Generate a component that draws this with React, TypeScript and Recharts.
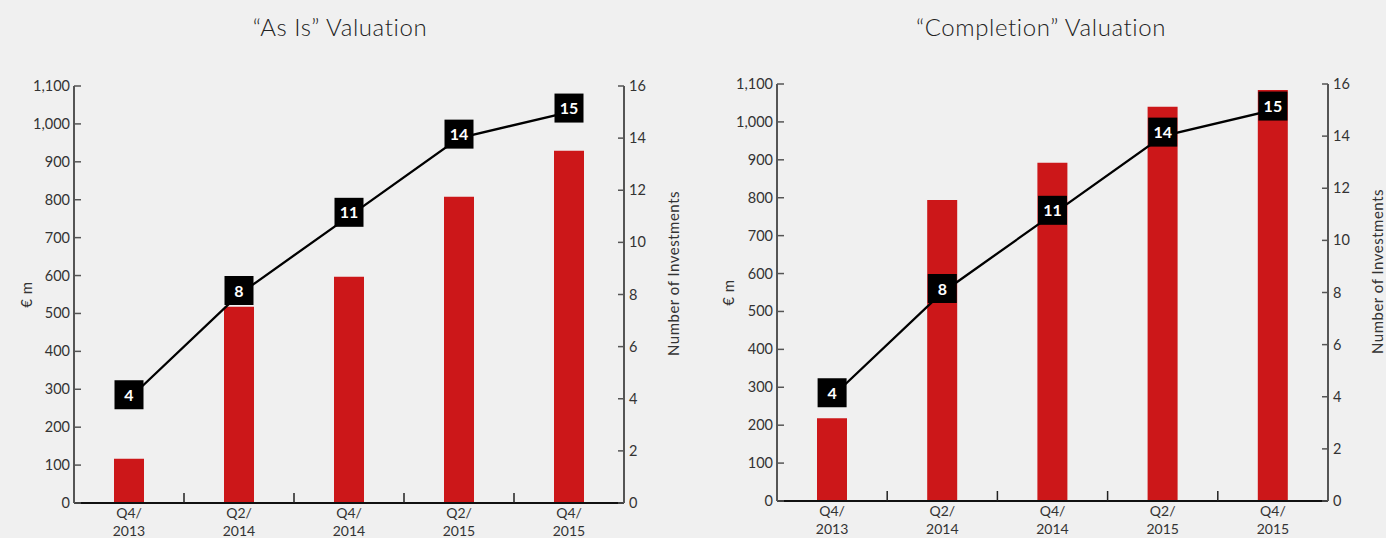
import { ComposedChart, Bar, Line, XAxis, YAxis, LabelList } from 'recharts'

const quarters = ['Q4/', 'Q2/', 'Q4/', 'Q2/', 'Q4/']
const years = ['2013', '2014', '2014', '2015', '2015']
const valueTicks = [0, 100, 200, 300, 400, 500, 600, 700, 800, 900, 1000, 1100]
const countTicks = [0, 2, 4, 6, 8, 10, 12, 14, 16]

const asIsValue = [117, 518, 597, 808, 929]
const asIsCount = [4, 8, 11, 14, 15]
const completionValue = [218, 794, 892, 1040, 1084]
const completionCount = [4, 8, 11, 14, 15]

const FONT = 'Lato, "Noto Sans", sans-serif'
const TEXT = '#333'
const AXIS = '#555'
const RED = '#cc1719'

function makeRows(values: number[], counts: number[]) {
  return quarters.map((q, i) => ({ cat: q + years[i], value: values[i], count: counts[i] }))
}

function LeftTick({ x, y, payload }: any) {
  return (
    <g>
      <line x1={x + 4} x2={x + 11} y1={y} y2={y} stroke={AXIS} strokeWidth={1.5} />
      <text x={x} y={y} dy={5} textAnchor="end" fontSize={14.5} fill={TEXT} fontFamily={FONT}>
        {payload.value.toLocaleString('en-US')}
      </text>
    </g>
  )
}

function RightTick({ x, y, payload }: any) {
  return (
    <g>
      <line x1={x - 5} x2={x - 11} y1={y} y2={y} stroke={AXIS} strokeWidth={1.5} />
      <text x={x} y={y} dy={5} textAnchor="start" fontSize={14.5} fill={TEXT} fontFamily={FONT}>
        {payload.value}
      </text>
    </g>
  )
}

function makeXTick(halfBand: number, count: number) {
  return function XTick({ x, y, index }: any) {
    return (
      <g>
        {index < count - 1 && (
          <line x1={x + halfBand} x2={x + halfBand} y1={y - 14} y2={y - 4} stroke="#222" strokeWidth={1.5} />
        )}
        <text x={x} y={y} textAnchor="middle" fontSize={14} fill={TEXT} fontFamily={FONT}>
          <tspan x={x} dy={11}>{quarters[index]}</tspan>
          <tspan x={x} dy={18}>{years[index]}</tspan>
        </text>
      </g>
    )
  }
}

function CountBadge({ x, y, value }: any) {
  return (
    <g>
      <rect x={x - 14.5} y={y - 18.5} width={29} height={29} fill="#000" />
      <text x={x} y={y - 4} dy={6} textAnchor="middle" fontSize={16} fontWeight={700} fill="#fff" fontFamily={FONT}>
        {value}
      </text>
    </g>
  )
}

function sideLabel(text: string, offset: number, shiftY: number) {
  return (props: any) => {
    const vb = props.viewBox
    const cx = vb.x + offset
    const cy = vb.y + vb.height / 2 + shiftY
    return (
      <text
        x={cx} y={cy} textAnchor="middle" dominantBaseline="central"
        transform={`rotate(-90 ${cx} ${cy})`}
        fontSize={15} letterSpacing={0.5} fill={TEXT} fontFamily={FONT}
      >
        {text}
      </text>
    )
  }
}

interface ChartProps {
  title: string
  titleCenter: number
  values: number[]
  counts: number[]
  left: number
  width: number
  plotLeft: number
  plotRight: number
  plotTop: number
  plotBottom: number
  rightAxisWidth: number
  euroOffset: number
}

function ValuationChart(p: ChartProps) {
  const data = makeRows(p.values, p.counts)
  const leftAxisWidth = 60
  const halfBand = (p.plotRight - p.plotLeft) / data.length / 2
  const xAxisHeight = 538 - p.plotBottom
  return (
    <div style={{ position: 'absolute', left: p.left, top: 0, width: p.width, height: 538 }}>
      <div style={{
        position: 'absolute', top: 11, left: p.titleCenter - 200, width: 400,
        textAlign: 'center', fontFamily: FONT, fontWeight: 300, fontSize: 24,
        letterSpacing: 0.6, color: '#222', lineHeight: '32px',
      }}>
        {p.title}
      </div>
      <ComposedChart
        width={p.width}
        height={538}
        data={data}
        margin={{ top: p.plotTop, right: p.width - p.plotRight - p.rightAxisWidth, bottom: 0, left: p.plotLeft - leftAxisWidth }}
      >
        <XAxis
          dataKey="cat"
          height={xAxisHeight}
          axisLine={{ stroke: '#111', strokeWidth: 2 }}
          tickLine={false}
          tickSize={0}
          tickMargin={4}
          interval={0}
          tick={makeXTick(halfBand, data.length)}
        />
        <YAxis
          yAxisId="v"
          orientation="left"
          width={leftAxisWidth}
          domain={[0, 1100]}
          ticks={valueTicks}
          interval={0}
          axisLine={{ stroke: AXIS, strokeWidth: 2 }}
          tickLine={false}
          tickSize={0}
          tickMargin={4}
          tick={<LeftTick />}
          label={{ content: sideLabel('€ m', p.euroOffset, 0) }}
        />
        <YAxis
          yAxisId="c"
          orientation="right"
          width={p.rightAxisWidth}
          domain={[0, 16]}
          ticks={countTicks}
          interval={0}
          axisLine={{ stroke: AXIS, strokeWidth: 2 }}
          tickLine={false}
          tickSize={0}
          tickMargin={5}
          tick={<RightTick />}
          label={{ content: sideLabel('Number of Investments', 49, -21) }}
        />
        <Bar yAxisId="v" dataKey="value" fill={RED} barSize={30} isAnimationActive={false} />
        <Line
          yAxisId="c"
          dataKey="count"
          stroke="#000"
          strokeWidth={2.3}
          dot={false}
          activeDot={false}
          type="linear"
          isAnimationActive={false}
        >
          <LabelList dataKey="count" content={<CountBadge />} />
        </Line>
      </ComposedChart>
    </div>
  )
}

export default function App() {
  return (
    <div style={{ position: 'absolute', left: 0, top: 0, width: 1386, height: 538, background: '#f0f0f0', overflow: 'hidden' }}>
      <ValuationChart
        title="“As Is” Valuation"
        titleCenter={340}
        values={asIsValue}
        counts={asIsCount}
        left={0}
        width={693}
        plotLeft={74}
        plotRight={624}
        plotTop={86}
        plotBottom={503}
        rightAxisWidth={60}
        euroOffset={12}
      />
      <ValuationChart
        title="“Completion” Valuation"
        titleCenter={341}
        values={completionValue}
        counts={completionCount}
        left={700}
        width={686}
        plotLeft={77}
        plotRight={628}
        plotTop={84}
        plotBottom={501}
        rightAxisWidth={50}
        euroOffset={11}
      />
    </div>
  )
}
